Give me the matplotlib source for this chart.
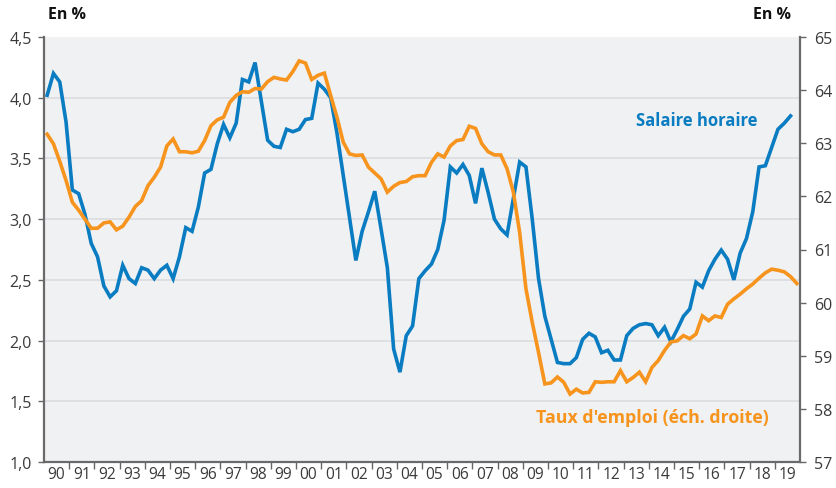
import numpy as np
import matplotlib
matplotlib.use("Agg")
from matplotlib import pyplot as plt
from matplotlib.ticker import FixedLocator, FuncFormatter

plt.rcParams['font.family'] = ['Open Sans', 'DejaVu Sans']

# glissement annuel du salaire horaire (en %), trimestriel 1990T1 - 2019T3
salaire_horaire = [
    4.02, 4.20, 4.13, 3.80,
    3.24, 3.21, 3.04, 2.80,
    2.69, 2.45, 2.36, 2.41,
    2.62, 2.51, 2.47, 2.60,
    2.58, 2.51, 2.58, 2.62,
    2.51, 2.69, 2.93, 2.90,
    3.10, 3.38, 3.41, 3.62,
    3.78, 3.67, 3.79, 4.15,
    4.13, 4.29, 3.97, 3.65,
    3.60, 3.59, 3.74, 3.72,
    3.74, 3.82, 3.83, 4.12,
    4.07, 4.00, 3.71, 3.36,
    3.01, 2.66, 2.90, 3.06,
    3.23, 2.92, 2.60, 1.93,
    1.74, 2.04, 2.12, 2.51,
    2.575, 2.63, 2.75, 2.99,
    3.43, 3.38, 3.45, 3.36,
    3.13, 3.42, 3.22, 3.00,
    2.92, 2.87, 3.17, 3.47,
    3.43, 3.00, 2.51, 2.20,
    2.01, 1.82, 1.81, 1.81,
    1.86, 2.01, 2.06, 2.03,
    1.90, 1.92, 1.84, 1.84,
    2.04, 2.10, 2.13, 2.14,
    2.13, 2.04, 2.11, 1.99,
    2.09, 2.20, 2.26, 2.48,
    2.44, 2.575, 2.67, 2.745,
    2.67, 2.50, 2.72, 2.84,
    3.06, 3.43, 3.44, 3.59,
    3.74, 3.79, 3.85,
]

# taux d'emploi (en %), trimestriel 1990T1 - 2019T4
taux_emploi = [
    63.17, 62.99, 62.66, 62.30,
    61.89, 61.74, 61.57, 61.40,
    61.40, 61.50, 61.52, 61.37,
    61.44, 61.61, 61.81, 61.92,
    62.20, 62.36, 62.55, 62.95,
    63.08, 62.84, 62.84, 62.82,
    62.85, 63.05, 63.33, 63.44,
    63.49, 63.77, 63.90, 63.97,
    63.96, 64.03, 64.02, 64.16,
    64.24, 64.21, 64.19, 64.35,
    64.55, 64.51, 64.20, 64.28,
    64.32, 63.90, 63.49, 63.02,
    62.80, 62.77, 62.78, 62.55,
    62.44, 62.33, 62.08, 62.19,
    62.26, 62.28, 62.37, 62.39,
    62.39, 62.64, 62.80, 62.74,
    62.95, 63.05, 63.07, 63.32,
    63.28, 62.99, 62.84, 62.78,
    62.78, 62.52, 62.08, 61.32,
    60.26, 59.63, 59.06, 58.47,
    58.49, 58.60, 58.50, 58.28,
    58.37, 58.30, 58.31, 58.51,
    58.50, 58.51, 58.51, 58.72,
    58.51, 58.59, 58.69, 58.51,
    58.78, 58.91, 59.10, 59.26,
    59.28, 59.38, 59.32, 59.41,
    59.75, 59.66, 59.75, 59.72,
    59.97, 60.07, 60.16, 60.26,
    60.35, 60.46, 60.56, 60.63,
    60.61, 60.58, 60.49, 60.36,
]

annees = list(range(1990, 2020))
etiquettes = [str(a)[-2:] for a in annees]
graduations_g = [1.0, 1.5, 2.0, 2.5, 3.0, 3.5, 4.0, 4.5]
graduations_d = [57, 58, 59, 60, 61, 62, 63, 64, 65]

bleu = '#0a7cc1'
orange = '#f7941d'
gris_txt = '#3a3a3a'

# milieu de chaque trimestre
x_sal = 1990 + (np.arange(len(salaire_horaire)) + 0.5) / 4
x_emp = 1990 + (np.arange(len(taux_emploi)) + 0.5) / 4

fig = plt.figure(figsize=(8.36, 4.89), dpi=100)
ax = fig.add_axes([44 / 836, 1 - 463 / 489, 756 / 836, 425 / 489])
ax2 = ax.twinx()

ax.set_facecolor('#f0f1f3')
ax.set_xlim(1990, 2020)
ax.set_ylim(1.0, 4.5)
ax2.set_ylim(57, 65)

for y in graduations_g[1:-1]:
    ax.axhline(y, color='#d9dadd', lw=1.1, zorder=0)

ax.plot(x_sal, salaire_horaire, color=bleu, lw=2.6, solid_joinstyle='miter', zorder=3)
ax2.plot(x_emp, taux_emploi, color=orange, lw=2.6, solid_joinstyle='miter', zorder=3)

# axe des abscisses : traits aux changements d'annee, etiquettes au milieu
ax.xaxis.set_major_locator(FixedLocator(annees[1:]))
ax.xaxis.set_minor_locator(FixedLocator([a + 0.5 for a in annees]))
ax.xaxis.set_major_formatter(FuncFormatter(lambda v, p: ''))
ax.set_xticklabels(etiquettes, minor=True)
ax.tick_params(axis='x', which='major', length=5, width=1, color='#666666', direction='out')
ax.tick_params(axis='x', which='minor', length=0, pad=3, labelsize=11.2, labelcolor=gris_txt)

ax.set_yticks(graduations_g)
ax.set_yticklabels([f'{v:.1f}'.replace('.', ',') for v in graduations_g])
ax.tick_params(axis='y', length=4, width=1, color='#666666', pad=5,
               labelsize=11.5, labelcolor=gris_txt)
ax2.set_yticks(graduations_d)
ax2.tick_params(axis='y', length=4, width=1, color='#666666', pad=6,
                labelsize=11.5, labelcolor=gris_txt)

for a in (ax, ax2):
    a.spines['top'].set_visible(False)
ax.spines['left'].set_color('#6a6a6a')
ax.spines['left'].set_linewidth(1.6)
ax.spines['bottom'].set_color('#6a6a6a')
ax.spines['bottom'].set_linewidth(1.6)
ax.spines['right'].set_visible(False)
ax2.spines['left'].set_visible(False)
ax2.spines['bottom'].set_visible(False)
ax2.spines['right'].set_color('#6a6a6a')
ax2.spines['right'].set_linewidth(1.6)

fig.text(48 / 836, 1 - 15 / 489, 'En %', fontsize=11.5, fontweight='bold',
         color='#111111', ha='left', va='center')
fig.text(791 / 836, 1 - 15 / 489, 'En %', fontsize=11.5, fontweight='bold',
         color='#111111', ha='right', va='center')

ax.text(0.944, 0.805, 'Salaire horaire', transform=ax.transAxes, color=bleu,
        fontsize=12, fontweight='bold', ha='right', va='center', zorder=5)
ax.text(0.959, 0.106, "Taux d'emploi (éch. droite)", transform=ax.transAxes,
        color=orange, fontsize=12.8, fontweight='bold', ha='right', va='center', zorder=5)

fig.savefig('out.png', dpi=100)
